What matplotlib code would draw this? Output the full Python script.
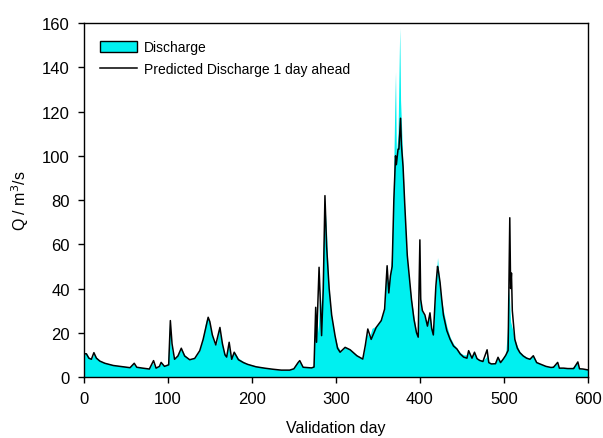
import matplotlib
matplotlib.use("Agg")
import matplotlib.pyplot as plt
from matplotlib.patches import Patch
from matplotlib.lines import Line2D

plt.rcParams['font.family'] = ['Liberation Sans', 'DejaVu Sans']

obs_days = [0, 3, 6, 9, 12, 15, 19, 25, 35, 45, 55, 59, 62, 70, 78, 82, 85, 90, 92, 96,
            100, 102, 104, 107, 112, 116, 120, 126, 132, 138, 142, 145, 147, 149, 152, 155,
            158, 161, 164, 167, 170, 172, 175, 179, 184, 190, 195, 205, 215, 225, 235, 245,
            250, 254, 257, 261, 270, 273, 275, 277, 279, 281, 283, 285, 287, 289, 291, 294,
            298, 302, 306, 311, 317, 325, 332, 335, 337, 340, 343, 348, 354, 358, 360, 362,
            364, 366, 368, 370, 371, 372, 374, 376, 377, 379, 381, 384, 387, 390, 393, 396,
            398, 400, 402, 405, 408, 410, 412, 414, 416, 418, 420, 421, 423, 425, 428, 432,
            436, 440, 444, 448, 452, 456, 458, 461, 465, 468, 471, 475, 479, 480, 482, 485,
            490, 493, 496, 499, 502, 504, 506, 508, 510, 513, 516, 519, 523, 527, 531, 535,
            539, 543, 550, 556, 563, 565, 570, 575, 580, 587, 589, 594, 600]
obs_q = [10.5, 11, 9, 8, 10.5, 9, 7.5, 6.5, 5.5, 5, 4.5, 6, 4.6, 4.2, 3.8, 6.5, 4.2, 5, 6.5, 5,
         6, 24, 14, 8, 10, 13, 10, 8, 8.5, 12, 18, 25, 27, 26, 20, 15,
         15, 22, 16, 11, 10, 15, 9, 11.5, 8.5, 7, 6, 5, 4.3, 3.7, 3.2, 3.3,
         4, 6.5, 7, 4.5, 4.2, 4.5, 25, 28, 20, 40, 30, 60, 78, 65, 45, 30,
         20, 14, 11.5, 13.5, 12.5, 10, 8.3, 14, 20, 18, 22, 23, 26, 31, 50, 42,
         45, 53, 75, 120, 138, 100, 110, 158, 125, 105, 85, 57, 45, 35, 27, 20,
         18, 40, 30, 28, 24, 27, 29, 22, 20, 35, 48, 54, 45, 37, 30, 23,
         18, 15, 13, 11, 10, 10, 12, 9.5, 11, 8.5, 8, 7.5, 9, 11.5, 7, 6,
         6.5, 9, 7, 8.5, 10, 20, 40, 25, 22, 17, 14, 11.5, 10, 9, 8.5, 9.5,
         7, 6, 5, 4.5, 6, 4.2, 4, 3.8, 3.8, 6.5, 3.8, 3.6, 3.3]

pred_days = [0, 3, 6, 9, 12, 15, 19, 25, 35, 45, 55, 60, 63, 70, 78, 83, 86, 90, 92, 96,
             101, 103, 105, 108, 112, 116, 120, 126, 132, 138, 142, 145, 148, 150, 153, 157,
             162, 165, 168, 170, 173, 176, 179, 184, 190, 195, 205, 215, 225, 235, 245,
             250, 255, 257, 261, 271, 274, 276, 277, 280, 283, 285, 287, 289, 292, 295,
             299, 302, 305, 311, 317, 325, 332, 335, 338, 342, 348, 354, 358, 361, 363,
             365, 367, 369, 371, 372, 374, 375, 377, 378, 380, 382, 385, 388, 390, 393, 396,
             398, 400, 401, 403, 406, 409, 412, 414, 416, 419, 421, 422, 424, 426, 428, 432,
             436, 440, 444, 448, 452, 456, 458, 462, 465, 468, 471, 475, 480, 482, 485,
             490, 493, 496, 499, 502, 505, 507, 508, 509, 510, 513, 516, 519, 523, 527, 531,
             535, 539, 543, 550, 556, 559, 564, 566, 571, 576, 583, 588, 590, 594, 600]
pred_q = [10.5, 10.5, 8.5, 8, 11, 8.5, 7.2, 6.2, 5.2, 4.7, 4.2, 6.2, 4.4, 4, 3.6, 7.4, 4, 4.8, 6.6, 4.8,
          5.5, 25.5, 15, 8, 9.5, 13, 9.5, 7.8, 8.4, 11.9, 17, 22, 27, 25, 19, 14.5,
          22.4, 15, 10, 9, 15.7, 8, 11.2, 7.8, 6.5, 5.7, 4.6, 4, 3.5, 3.1, 3.1,
          3.7, 6.5, 7.4, 4.4, 4.1, 4.5, 31.5, 15.7, 49.6, 18.7, 40, 82, 59, 40, 28,
          18.7, 13, 11.2, 13.4, 12.3, 9.6, 8.1, 14.2, 21.7, 17, 22.4, 25.5, 30.7, 50.3, 38,
          45.8, 50, 80, 100, 96, 103, 103, 117, 105, 95, 78, 55, 43, 35, 26, 20,
          18, 62, 35, 30, 28, 23, 29, 22, 19, 41, 50, 48, 42.8, 35, 28, 21,
          17, 14, 12.7, 10.4, 9, 8.5, 11.9, 8.5, 11.2, 8.3, 7.5, 7, 12.3, 6.5, 5.9,
          6, 8.9, 6.5, 8, 9.7, 12, 72, 40, 47, 30, 17, 13, 11, 9.5, 8.5, 8,
          9.6, 6.5, 5.9, 4.8, 4.3, 4.4, 6.6, 4, 4, 3.8, 3.8, 6.8, 3.7, 3.6, 3.2]

fig = plt.figure(figsize=(6.03, 4.39), dpi=100)
ax = fig.add_axes([0.139, 0.139, 0.836, 0.806])

ax.fill_between(obs_days, obs_q, 0, color='#00F0F0', linewidth=0, zorder=1)
ax.plot(pred_days, pred_q, color='black', linewidth=1.1, zorder=2)

ax.set_xlim(0, 600)
ax.set_ylim(0, 160)
ax.set_xticks(range(0, 601, 100))
ax.set_yticks(range(0, 161, 20))
ax.tick_params(direction='out', length=4, width=1, labelsize=12, colors='black', pad=6)
for s in ax.spines.values():
    s.set_linewidth(1.0)
ax.set_xlabel('Validation day', fontsize=11.5, labelpad=10)
ax.set_ylabel('Q / m$^3$/s', fontsize=11.5, labelpad=8)

handles = [Patch(facecolor='#00F0F0', edgecolor='black', linewidth=1.0),
           Line2D([0], [0], color='black', linewidth=1.1)]
ax.legend(handles, ['Discharge', 'Predicted Discharge 1 day ahead'],
          loc='upper left', bbox_to_anchor=(0.015, 0.975), frameon=False,
          fontsize=10, handlelength=2.7, handleheight=0.9, handletextpad=0.5,
          labelspacing=0.55, borderaxespad=0.2)

fig.savefig('out.png', dpi=100)
